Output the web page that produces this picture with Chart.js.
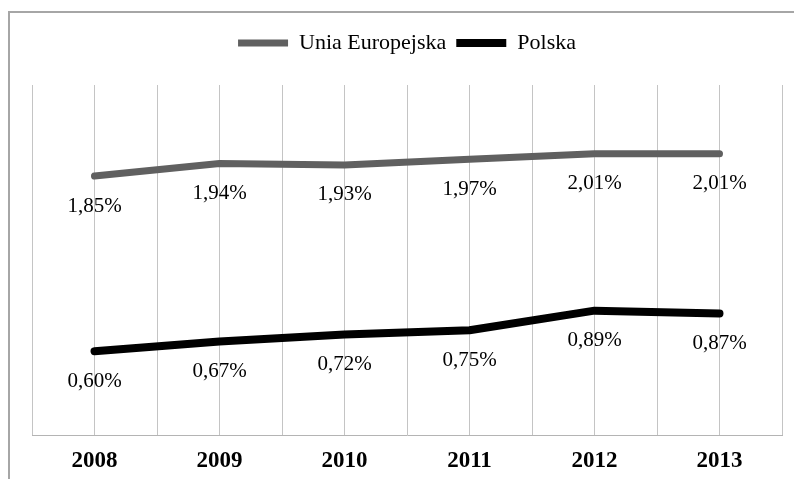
<!DOCTYPE html>
<html>
<head>
<meta charset="utf-8">
<script src="https://cdn.jsdelivr.net/npm/chart.js@4"></script>
<style>
  html, body { margin: 0; padding: 0; background: #fff; overflow: hidden; }
  #wrap { position: relative; width: 794px; height: 479px; }
  #frame { position: absolute; left: 8px; top: 11px; width: 900px; height: 600px;
           border-top: 2px solid #a6a6a6; border-left: 2px solid #a6a6a6; }
  canvas { position: absolute; left: 0; top: 0; }
</style>
</head>
<body>
<div id="wrap">
  <div id="frame"></div>
  <canvas id="chart" width="794" height="479"></canvas>
</div>
<script>
var years = ["2008", "2009", "2010", "2011", "2012", "2013"];
var euLabel = "Unia Europejska";
var plLabel = "Polska";
var euValues = [1.85, 1.94, 1.93, 1.97, 2.01, 2.01];
var plValues = [0.60, 0.67, 0.72, 0.75, 0.89, 0.87];

function fmt(v) {
  return v.toFixed(2).replace(".", ",") + "%";
}

// push chart area down below the legend
var legendSpace = {
  id: "legendSpace",
  beforeInit: function (chart) {
    var fit = chart.legend.fit;
    chart.legend.fit = function () {
      fit.call(this);
      this.height += 21;
    };
  }
};

// value labels under each point
var valueLabels = {
  id: "valueLabels",
  afterDatasetsDraw: function (chart) {
    var ctx = chart.ctx;
    ctx.save();
    ctx.font = "21px 'Liberation Serif'";
    ctx.fillStyle = "#000";
    ctx.textAlign = "center";
    ctx.textBaseline = "middle";
    chart.data.datasets.forEach(function (ds, i) {
      var meta = chart.getDatasetMeta(i);
      meta.data.forEach(function (pt, j) {
        ctx.fillText(fmt(ds.data[j]), pt.x, pt.y + 30);
      });
    });
    ctx.restore();
  }
};

new Chart(document.getElementById("chart"), {
  type: "line",
  data: {
    labels: years,
    datasets: [
      {
        label: euLabel,
        data: euValues,
        borderColor: "#606060",
        backgroundColor: "#606060",
        borderWidth: 7,
        borderCapStyle: "round",
        borderJoinStyle: "round",
        pointRadius: 0,
        tension: 0
      },
      {
        label: plLabel,
        data: plValues,
        borderColor: "#000000",
        backgroundColor: "#000000",
        borderWidth: 8,
        borderCapStyle: "round",
        borderJoinStyle: "round",
        pointRadius: 0,
        tension: 0
      }
    ]
  },
  options: {
    responsive: false,
    animation: false,
    layout: {
      padding: { left: 32, right: 12, top: 22, bottom: -8 }
    },
    plugins: {
      legend: {
        position: "top",
        labels: {
          usePointStyle: true,
          pointStyle: "line",
          pointStyleWidth: 50,
          boxWidth: 50,
          padding: 10,
          color: "#000",
          font: { family: "'Liberation Serif'", size: 22 }
        }
      },
      tooltip: { enabled: false }
    },
    scales: {
      x: {
        type: "category",
        offset: true,
        grid: { offset: true, color: "#c4c4c4", drawTicks: false },
        border: { color: "#b4b4b4", width: 1 },
        ticks: {
          color: "#000",
          padding: 12,
          font: { family: "'Liberation Serif'", size: 23, weight: "bold" }
        }
      },
      x2: {
        type: "category",
        position: "bottom",
        offset: true,
        grid: { offset: false, color: "#c4c4c4", drawTicks: false, tickLength: 0 },
        border: { display: false },
        ticks: { display: false, padding: 0 }
      },
      y: {
        display: false,
        min: 0,
        max: 2.5
      }
    }
  },
  plugins: [legendSpace, valueLabels]
});
</script>
</body>
</html>
